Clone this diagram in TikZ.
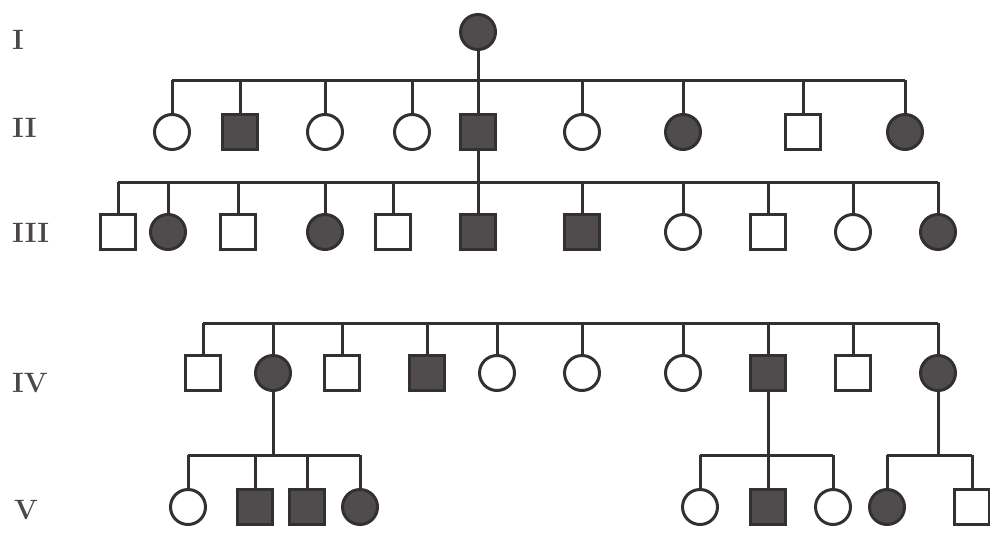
\documentclass[tikz,border=0pt]{standalone}
\usetikzlibrary{calc}
\definecolor{ln}{RGB}{50,48,48}
\definecolor{af}{RGB}{80,75,77}
\definecolor{lbl}{RGB}{75,72,70}
\begin{document}
\begin{tikzpicture}[x=1pt,y=-1pt,
  fem/.style={circle, draw=ln, line width=3pt, minimum size=35pt, inner sep=0pt, fill=white},
  mal/.style={rectangle, draw=ln, line width=3pt, minimum size=35pt, inner sep=0pt, fill=white},
  fa/.style={fem, fill=af},
  ma/.style={mal, fill=af},
  link/.style={draw=ln, line width=3pt},
  gen/.style={font=\fontsize{28}{28}\selectfont\bfseries, text=lbl, anchor=west, inner sep=0pt}]
\useasboundingbox[fill=white] (0,0) rectangle (990,533);

% generation labels
\node[gen] (gI)   at (12,40)  {I};
\node[gen] (gII)  at (12,128) {II};
\node[gen] (gIII) at (12,233) {III};
\node[gen] (gIV)  at (12,383) {IV};
\node[gen] (gV)   at (14,510) {V};

% generation I
\node[fa] (i1) at (478,32) {};

% generation II
\foreach \n/\x/\s in {1/172/fem, 2/240/ma, 3/325/fem, 4/412/fem, 5/478/ma,
                      6/582/fem, 7/683/fa, 8/803/mal, 9/905/fa}
  \node[\s] (ii\n) at (\x,132) {};

% generation III
\foreach \n/\x/\s in {1/118/mal, 2/168/fa, 3/238/mal, 4/325/fa, 5/393/mal,
                      6/478/ma, 7/582/ma, 8/683/fem, 9/768/mal, 10/853/fem, 11/938/fa}
  \node[\s] (iii\n) at (\x,232) {};

% generation IV
\foreach \n/\x/\s in {1/203/mal, 2/273/fa, 3/342/mal, 4/427/ma, 5/497/fem,
                      6/582/fem, 7/683/fem, 8/768/ma, 9/853/mal, 10/938/fa}
  \node[\s] (iv\n) at (\x,373) {};

% generation V
\foreach \n/\x/\s in {1/188/fem, 2/255/ma, 3/307/ma, 4/360/fa,
                      5/700/fem, 6/768/ma, 7/833/fem, 8/887/fa, 9/972/mal}
  \node[\s] (v\n) at (\x,507) {};

% sibship lines
\coordinate (sII) at (0,80);
\coordinate (sIII) at (0,182);
\coordinate (sIV) at (0,323);
\coordinate (sV) at (0,455);

% I -> II
\draw[link] (i1.south) -- (i1 |- sII);
\draw[link] (ii1 |- sII) -- (ii9 |- sII);
\foreach \c in {ii1,ii2,ii3,ii4,ii5,ii6,ii7,ii8,ii9}
  \draw[link] (\c |- sII) -- (\c.north);

% II -> III
\draw[link] (ii5.south) -- (ii5 |- sIII);
\draw[link] (iii1 |- sIII) -- (iii11 |- sIII);
\foreach \c in {iii1,iii2,iii3,iii4,iii5,iii6,iii7,iii8,iii9,iii10,iii11}
  \draw[link] (\c |- sIII) -- (\c.north);

% IV sibship
\draw[link] (iv1 |- sIV) -- (iv10 |- sIV);
\foreach \c in {iv1,iv2,iv3,iv4,iv5,iv6,iv7,iv8,iv9,iv10}
  \draw[link] (\c |- sIV) -- (\c.north);

% IV -> V
\draw[link] (iv2.south) -- (iv2 |- sV);
\draw[link] (v1 |- sV) -- (v4 |- sV);
\foreach \c in {v1,v2,v3,v4}
  \draw[link] (\c |- sV) -- (\c.north);

\draw[link] (iv8.south) -- (iv8 |- sV);
\draw[link] (v5 |- sV) -- (v7 |- sV);
\foreach \c in {v5,v6,v7}
  \draw[link] (\c |- sV) -- (\c.north);

\draw[link] (iv10.south) -- (iv10 |- sV);
\draw[link] (v8 |- sV) -- (v9 |- sV);
\foreach \c in {v8,v9}
  \draw[link] (\c |- sV) -- (\c.north);
\end{tikzpicture}
\end{document}
